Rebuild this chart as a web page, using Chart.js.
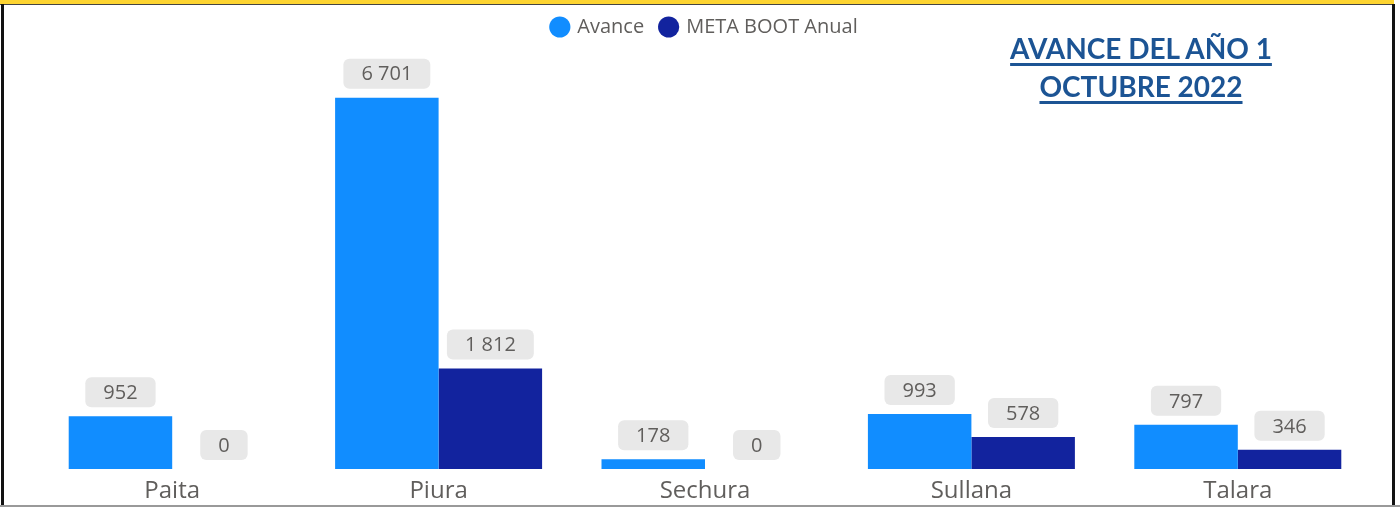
<!DOCTYPE html>
<html>
<head>
<meta charset="utf-8">
<script src="https://cdn.jsdelivr.net/npm/chart.js@4/dist/chart.umd.min.js"></script>
<style>
    html, body { margin: 0; padding: 0; background: #fff; }
    #wrap { position: relative; width: 1400px; height: 507px; overflow: hidden; }
    #topBar { position: absolute; left: 0; top: 0; width: 1394px; height: 4px; background: #fdd431; border-bottom: 1px solid #444; }
    #leftBar { position: absolute; left: 1px; top: 4px; width: 3px; height: 503px; background: #111; }
    #rightBar { position: absolute; left: 1392px; top: 4px; width: 3px; height: 503px; background: #111; }
    #bottomBar { position: absolute; left: 0; top: 505px; width: 1400px; height: 2px; background: #999; }
    #title {
        position: absolute; left: 990px; top: 29px; width: 302px;
        text-align: center; font-family: Lato, sans-serif; font-weight: bold;
        font-size: 28px; line-height: 38px; color: #1c5494; text-decoration: underline;
        text-decoration-thickness: 3px; text-underline-offset: 4px;
    }
    canvas { position: absolute; left: 0; top: 0; }
</style>
</head>
<body>
<div id="wrap">
    <canvas id="avanceChart" width="1400" height="507"></canvas>
    <div id="topBar"></div>
    <div id="leftBar"></div>
    <div id="rightBar"></div>
    <div id="bottomBar"></div>
    <div id="title">AVANCE DEL AÑO 1<br>OCTUBRE 2022</div>
</div>
<script>
// Data
const provincias = ['Paita', 'Piura', 'Sechura', 'Sullana', 'Talara'];
const avance = [952, 6701, 178, 993, 797];
const metaBoot = [0, 1812, 0, 578, 346];

const colorAvance = '#118dff';
const colorMeta = '#12239e';

// thousands with a space: 6701 -> "6 701"
const fmt = (v) => String(v).replace(/\B(?=(\d{3})+(?!\d))/g, ' ');

// Grey rounded boxes over each bar
const labelBoxes = {
    id: 'labelBoxes',
    afterDatasetsDraw(chart) {
        const ctx = chart.ctx;
        ctx.save();
        ctx.font = '20px "Open Sans", sans-serif';
        ctx.textAlign = 'center';
        ctx.textBaseline = 'middle';
        chart.data.datasets.forEach((ds, i) => {
            const meta = chart.getDatasetMeta(i);
            meta.data.forEach((bar, j) => {
                const txt = fmt(ds.data[j]);
                const w = ctx.measureText(txt).width + 36;
                const h = 30;
                const x = bar.x - w / 2;
                const y = bar.y - 9 - h;
                ctx.fillStyle = '#e8e8e8';
                ctx.beginPath();
                ctx.roundRect(x, y, w, h, 6);
                ctx.fill();
                ctx.fillStyle = '#605e5c';
                ctx.fillText(txt, bar.x, y + h / 2 + 1);
            });
        });
        ctx.restore();
    }
};

const ctx = document.getElementById('avanceChart').getContext('2d');
const avanceChart = new Chart(ctx, {
    type: 'bar',
    data: {
        labels: provincias,
        datasets: [
            { label: 'Avance', data: avance, backgroundColor: colorAvance, borderWidth: 0 },
            { label: 'META BOOT Anual', data: metaBoot, backgroundColor: colorMeta, borderWidth: 0 }
        ]
    },
    options: {
        responsive: false,
        animation: false,
        layout: { padding: { left: 39, right: 29, top: 0, bottom: 0 } },
        categoryPercentage: 0.777,
        barPercentage: 1,
        scales: {
            x: {
                grid: { display: false, drawTicks: false },
                border: { display: false },
                ticks: { color: '#605e5c', font: { family: '"Open Sans", sans-serif', size: 24 }, padding: 8 },
                afterFit(scale) { scale.height = 38; }
            },
            y: {
                display: false,
                min: 0,
                max: 7615
            }
        },
        plugins: {
            legend: {
                position: 'top',
                align: 'center',
                labels: {
                    usePointStyle: true,
                    pointStyle: 'circle',
                    boxWidth: 15,
                    boxHeight: 15,
                    color: '#605e5c',
                    font: { family: '"Open Sans", sans-serif', size: 20 },
                    padding: 17
                }
            },
            tooltip: { enabled: false }
        }
    },
    plugins: [labelBoxes]
});
</script>
</body>
</html>
